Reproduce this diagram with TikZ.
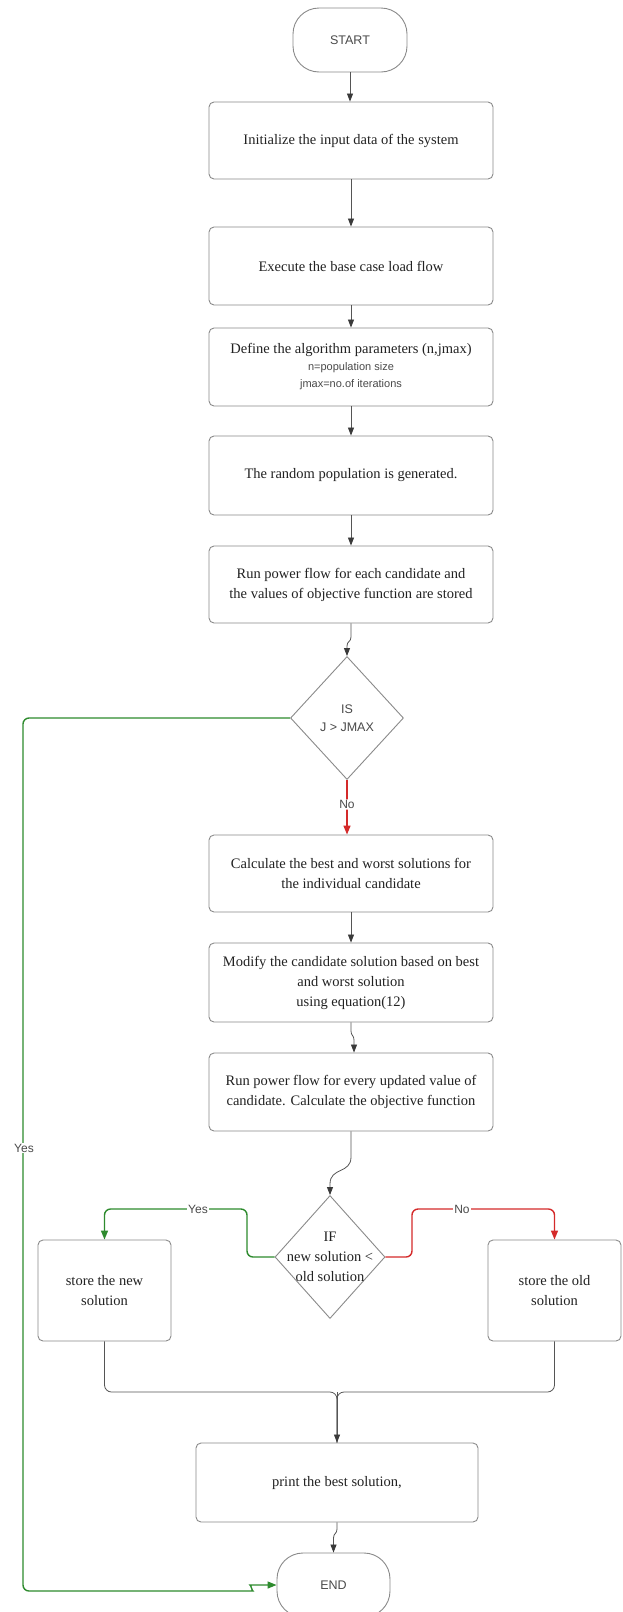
\documentclass[tikz,border=0pt]{standalone}
\usepackage{fontspec}
\setmainfont{Liberation Serif}
\setsansfont{Liberation Sans}
\usetikzlibrary{arrows.meta,shapes.geometric}
\definecolor{boxline}{HTML}{8A8A8A}
\definecolor{flowc}{HTML}{555555}
\definecolor{tipc}{HTML}{3A3A3A}
\definecolor{ygreen}{HTML}{2E8B2E}
\definecolor{nred}{HTML}{D42A2A}
\definecolor{txt}{HTML}{222222}
\definecolor{stxt}{HTML}{4A4A4A}
\tikzset{
  procbox/.style={draw=boxline,line width=0.9pt,rounded corners=5pt,align=center,text=txt,
    font=\fontsize{14.5}{20}\selectfont,inner sep=0pt},
  terminal/.style={draw=boxline,line width=0.9pt,rounded corners=26pt,minimum width=114pt,
    minimum height=64pt,font=\sffamily\fontsize{12.5}{15}\selectfont,text=stxt},
  decision/.style={draw=boxline,line width=0.9pt,shape=diamond,inner sep=0pt},
  dtext/.style={align=center,inner sep=0pt},
  flow/.style={draw=flowc,line width=0.8pt,-{Triangle[length=8pt,width=6pt,color=tipc]}},
  plainflow/.style={draw=flowc,line width=0.8pt,rounded corners=7pt},
  yesline/.style={draw=ygreen,line width=1.4pt,rounded corners=6pt,-{Triangle[length=9pt,width=7pt]}},
  noline/.style={draw=nred,line width=1.4pt,rounded corners=6pt,-{Triangle[length=9pt,width=7pt]}},
  lbl/.style={fill=white,font=\sffamily\fontsize{12}{14}\selectfont,text=stxt,inner sep=1pt}
}
\begin{document}
\begin{tikzpicture}[x=1pt,y=-1pt]
\useasboundingbox (0,0) rectangle (623,1612);
\fill[white] (0,0) rectangle (623,1612);

% nodes
\node[terminal] (start) at (350,40) {START};
\node[procbox,minimum width=284pt,minimum height=77pt] (b1) at (351,140.5)
  {Initialize the input data of the system};
\node[procbox,minimum width=284pt,minimum height=78pt] (b2) at (351,266)
  {Execute the base case load flow};
\node[procbox,minimum width=284pt,minimum height=78pt,font=\fontsize{14.5}{17}\selectfont] (b3) at (351,367)
  {Define the algorithm parameters (n,jmax)\\
   {\sffamily\fontsize{11}{16}\selectfont\color{stxt}n=population size}\\
   {\sffamily\fontsize{11}{16}\selectfont\color{stxt}jmax=no.of iterations}};
\node[procbox,minimum width=284pt,minimum height=79pt] (b4) at (351,475.5)
  {The random population is generated.};
\node[procbox,minimum width=284pt,minimum height=77pt] (b5) at (351,584.5)
  {Run power flow for each candidate and\\the values of objective function are stored};
\node[decision,minimum width=113pt,minimum height=123pt] (d1) at (347,718) {};
\node[dtext,font=\sffamily\fontsize{12.5}{18}\selectfont,text=stxt] (d1t) at (347,718) {IS\\J > JMAX};
\node[procbox,minimum width=284pt,minimum height=77pt] (b6) at (351,873.5)
  {Calculate the best and worst solutions for\\the individual candidate};
\node[procbox,minimum width=284pt,minimum height=79pt] (b7) at (351,982.5)
  {Modify the candidate solution based on best\\and worst solution\\using equation(12)};
\node[procbox,minimum width=284pt,minimum height=78pt] (b8) at (351,1092)
  {Run power flow for every updated value of\\candidate. Calculate the objective function};
\node[decision,minimum width=110pt,minimum height=123pt] (d2) at (330,1257) {};
\node[dtext,font=\fontsize{14.5}{20}\selectfont,text=txt] (d2t) at (330,1257)
  {IF\\new solution <\\old solution};
\node[procbox,minimum width=133pt,minimum height=101pt] (bn) at (104.5,1290.5)
  {store the new\\solution};
\node[procbox,minimum width=133pt,minimum height=101pt] (bo) at (554.5,1290.5)
  {store the old\\solution};
\node[procbox,minimum width=282pt,minimum height=79pt] (bp) at (337,1482.5)
  {print the best solution,};
\node[terminal,minimum width=113pt] (end) at (333.5,1585) {END};

% straight connectors
\draw[flow] (start.south) -- (start.south |- b1.north);
\draw[flow] (b1.south) -- (b2.north);
\draw[flow] (b2.south) -- (b3.north);
\draw[flow] (b3.south) -- (b4.north);
\draw[flow] (b4.south) -- (b5.north);
\draw[flow] (b6.south) -- (b7.north);

% jogged connectors
\coordinate (j1a) at (351,637);
\coordinate (j1b) at (347,646);
\draw[flow] (b5.south) -- (j1a) .. controls (351,642) and (347,641) .. (j1b) -- (d1.north);

\coordinate (j2a) at (351,1031);
\coordinate (j2b) at (354,1040);
\draw[flow] (b7.south) -- (j2a) .. controls (351,1036) and (354,1035) .. (j2b) -- (j2b |- b8.north);

\coordinate (j3a) at (351,1157);
\coordinate (j3b) at (330,1184);
\draw[flow] (b8.south) -- (j3a) .. controls (351,1174) and (330,1167) .. (j3b) -- (d2.north);

\coordinate (j4a) at (337,1529);
\coordinate (j4b) at (333.5,1538);
\draw[flow] (bp.south) -- (j4a) .. controls (337,1534) and (333.5,1533) .. (j4b) -- (end.north);

% merge to print box
\coordinate (mg) at (337,1392);
\draw[plainflow] (bn.south) |- (mg) -- (bp.north);
\draw[plainflow] (bo.south) |- (mg) -- (bp.north);
\draw[flow] (mg) -- (bp.north);

% decision 1 branches
\draw[noline] (d1.south) -- (d1.south |- b6.north) node[lbl,pos=0.45] {No};
\coordinate (g1) at (23,718);
\coordinate (g2) at (23,1591);
\coordinate (g3) at (247,1591);
\coordinate (g4) at (256,1585);
\draw[yesline] (d1.west) -- (g1) -- (g2) -- (g3) .. controls (252,1591) and (251,1585) .. (g4) -- (end.west);
\node[lbl] (yes1) at (24,1148) {Yes};

% decision 2 branches
\coordinate (y1) at (247,1257);
\coordinate (y2) at (247,1209);
\draw[yesline] (d2.west) -- (y1) -- (y2) -| (bn.north);
\node[lbl] (yes2) at (198,1209) {Yes};
\coordinate (n1) at (412,1257);
\coordinate (n2) at (412,1209);
\draw[noline] (d2.east) -- (n1) -- (n2) -| (bo.north);
\node[lbl] (no2) at (462,1209) {No};
\end{tikzpicture}
\end{document}
